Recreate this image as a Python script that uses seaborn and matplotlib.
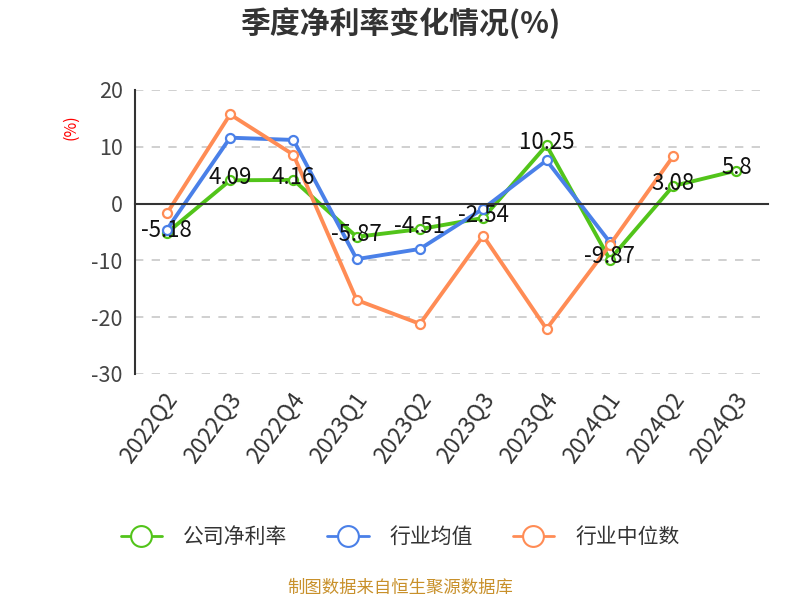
import numpy as np
import pandas as pd
import seaborn as sns
import matplotlib.pyplot as plt

quarters = ["2022Q2", "2022Q3", "2022Q4", "2023Q1", "2023Q2",
            "2023Q3", "2023Q4", "2024Q1", "2024Q2", "2024Q3"]
company = [-5.18, 4.09, 4.16, -5.87, -4.51, -2.54, 10.25, -9.87, 3.08, 5.8]
industry_mean = [-4.6, 11.6, 11.2, -9.8, -8.0, -0.9, 7.6, -6.8, np.nan, np.nan]
industry_median = [-1.75, 15.7, 8.6, -17.0, -21.2, -5.7, -22.1, -7.3, 8.3, np.nan]

series_names = ["公司净利率", "行业均值", "行业中位数"]
colors = {"公司净利率": "#52c41a", "行业均值": "#4a80e8", "行业中位数": "#ff8c55"}

df = pd.DataFrame({
    "quarter": quarters * 3,
    "x": list(range(len(quarters))) * 3,
    "value": company + industry_mean + industry_median,
    "series": [series_names[0]] * 10 + [series_names[1]] * 10 + [series_names[2]] * 10,
})

sns.set_theme(style="white")
plt.rcParams["font.family"] = ["Noto Sans CJK SC", "DejaVu Sans"]
plt.rcParams["axes.unicode_minus"] = False

fig = plt.figure(figsize=(8, 6), dpi=100)
ax = fig.add_axes([0.169, 0.377, 0.791, 0.473])

sns.lineplot(data=df.dropna(), x="x", y="value", hue="series", hue_order=series_names,
             palette=colors, linewidth=2.8, marker="o", markersize=6.5,
             markerfacecolor="white", markeredgewidth=1.6, ax=ax, legend=False)
for line, name in zip(ax.lines, series_names):
    line.set_markeredgecolor(colors[name])

# company values written on the points
for i, v in enumerate(company):
    ax.annotate(f"{v:g}", (i, v), xytext=(0, 2), textcoords="offset points",
                ha="center", va="center", fontsize=16, color="#111111")

ax.set_xlim(-0.5, len(quarters) - 0.5)
ax.set_ylim(-30, 20)
ax.set_yticks([-30, -20, -10, 0, 10, 20])
ax.yaxis.grid(True, linestyle=(0, (5, 5)), color="#c8c8c8", linewidth=1.2)
for s in ["top", "right"]:
    ax.spines[s].set_visible(False)
ax.spines["bottom"].set_position(("data", 0))
ax.spines["bottom"].set_color("#333333")
ax.spines["left"].set_color("#333333")
ax.spines["bottom"].set_linewidth(1.5)
ax.spines["left"].set_linewidth(1.5)

ax.set_xticks(np.arange(-0.5, len(quarters) + 0.5, 1))
ax.set_xticklabels([])
ax.tick_params(axis="x", direction="out", length=6, width=1.3, color="#333333")
ax.tick_params(axis="y", direction="out", length=6, width=1.3, color="#333333",
               labelsize=15.5, labelcolor="#444444", pad=3)
for i, q in enumerate(quarters):
    ax.text(i - 0.05, -32.6, q, rotation=54, ha="right", va="top",
            rotation_mode="anchor", fontsize=16.5, color="#333333")
ax.set_xlabel("")
ax.set_ylabel("(%)", color="red", fontsize=11.5)
ax.yaxis.set_label_coords(-0.088, 0.87)

fig.text(0.5, 0.962, "季度净利率变化情况(%)", ha="center", va="center",
         fontsize=21.5, fontweight="bold", color="#333333")

handles = [plt.Line2D([], [], color=colors[n], linewidth=2, marker="o", markersize=15,
                      markerfacecolor="white", markeredgewidth=1.5) for n in series_names]
fig.legend(handles, series_names, loc="center", bbox_to_anchor=(0.5, 0.105), ncol=3,
           frameon=False, fontsize=15, handlelength=2.0, columnspacing=1.9,
           handletextpad=1.0, labelcolor="#333333")

fig.text(0.5, 0.02, "制图数据来自恒生聚源数据库", ha="center", va="center",
         fontsize=12.5, color="#c8902a")

fig.savefig("out.png", dpi=100)
